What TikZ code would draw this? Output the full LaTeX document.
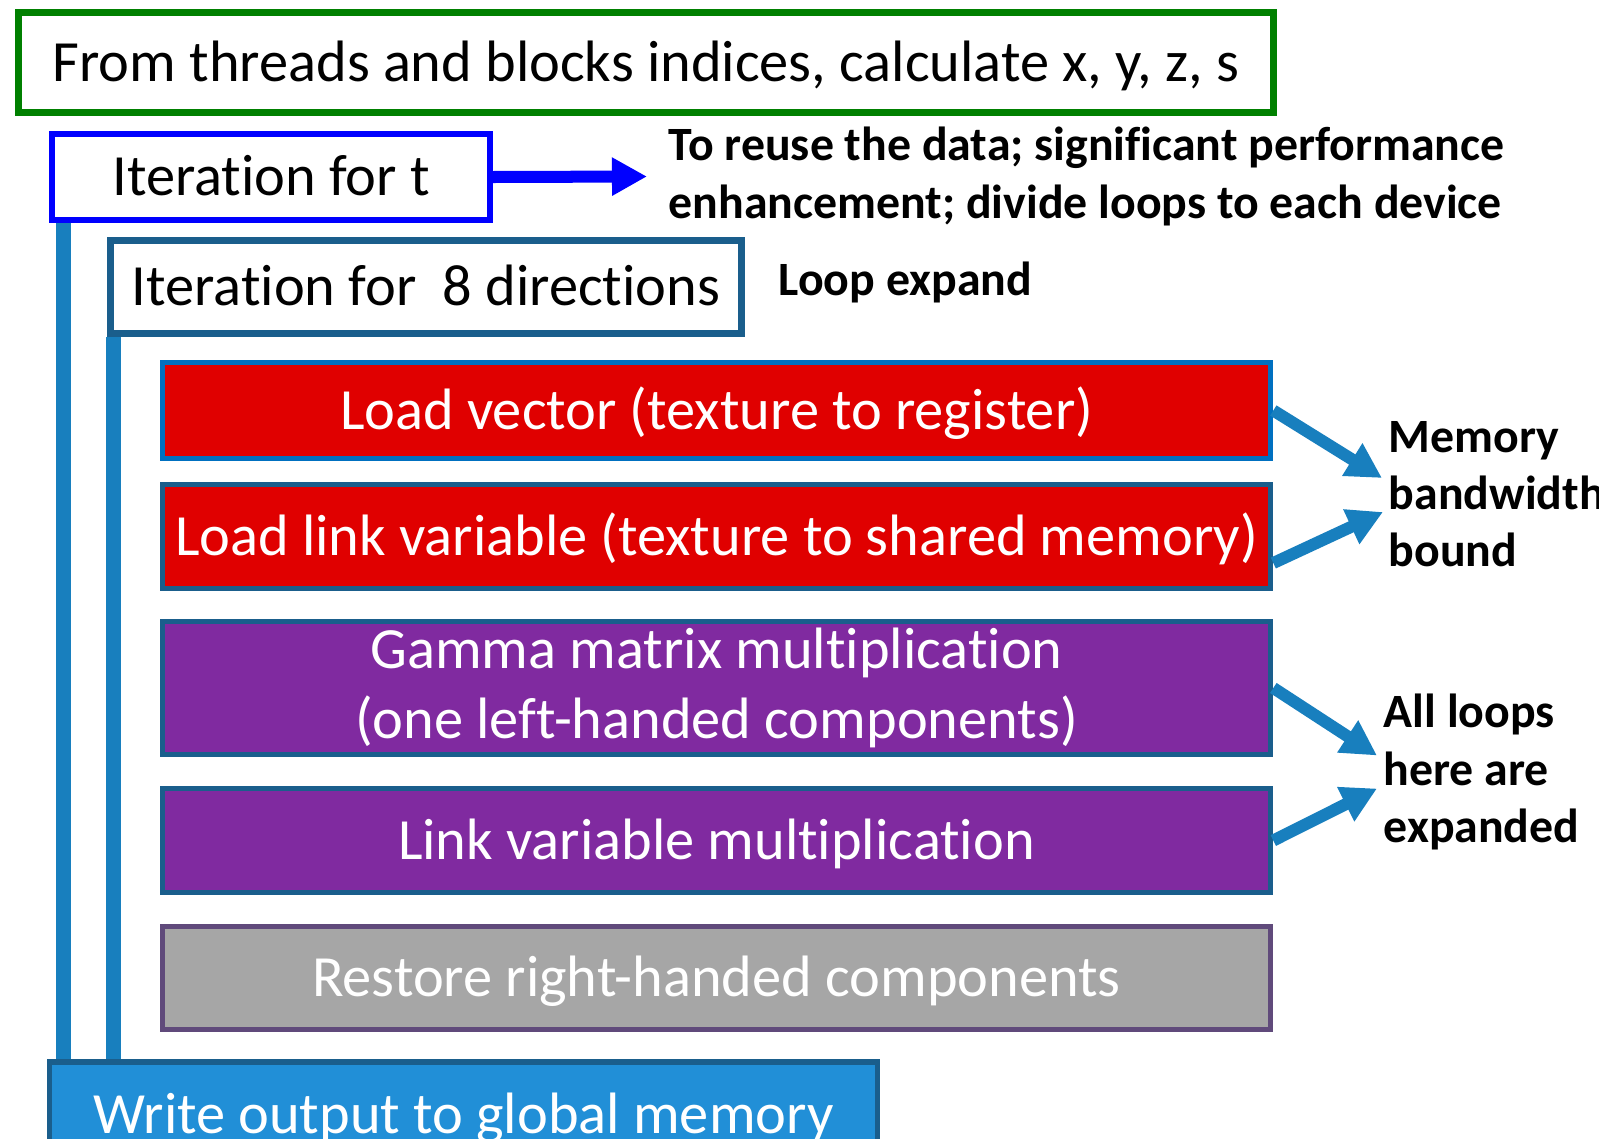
\documentclass[tikz,border=0pt]{standalone}
\usepackage{fontspec}
\setmainfont{Carlito}[Ligatures=NoCommon]
\usetikzlibrary{arrows.meta}
\definecolor{headGreen}{RGB}{0,128,0}
\definecolor{tBlue}{RGB}{0,0,255}
\definecolor{edgeBlue}{RGB}{26,94,140}
\definecolor{vecBlue}{RGB}{0,112,192}
\definecolor{barBlue}{RGB}{24,127,190}
\definecolor{outBlue}{RGB}{33,143,215}
\definecolor{loadRed}{RGB}{224,0,0}
\definecolor{mulPurple}{RGB}{128,42,160}
\definecolor{restGray}{RGB}{166,166,166}
\definecolor{restEdge}{RGB}{96,74,123}
\def\stagew{11.08cm}
\begin{document}
\begin{tikzpicture}[x=0.01cm, y=-0.01cm,
	boxtxt/.style={font=\fontsize{16.6}{19.9}\selectfont, text height=12.5pt, text depth=1.75pt, inner sep=0pt},
	stage/.style={boxtxt, draw=edgeBlue, line width=0.05cm, minimum width=\stagew, text=white},
	note/.style={font=\fontsize{13.6}{16.3}\selectfont\bfseries, align=left, inner sep=0pt},
	pipe/.style={draw=barBlue, line width=0.15cm},
	fat/.style={draw=barBlue, line width=0.12cm, -{Triangle[length=0.35cm,width=0.36cm]}}]
	\useasboundingbox (0,0) rectangle (1599,1139);
	\clip (0,0) rectangle (1599,1139);
	% outer loop frames
	\node[boxtxt, draw=headGreen, line width=0.07cm, minimum width=12.55cm, minimum height=1cm] (head) at (646,62.5) {From threads and blocks indices, calculate x, y, z, s};
	\node[boxtxt, draw=tBlue, line width=0.06cm, minimum width=4.38cm, minimum height=0.86cm] (tloop) at (271,177) {Iteration for t};
	\node[boxtxt, draw=edgeBlue, line width=0.07cm, minimum width=6.31cm, minimum height=0.93cm] (dloop) at (426,287) {Iteration for\ \ 8 directions};
	% body of the direction loop
	\node[stage, fill=loadRed, draw=vecBlue, minimum height=0.96cm] (vec) at (716.5,410.5) {Load vector (texture to register)};
	\node[stage, fill=loadRed, minimum height=1.04cm] (lnk) at (716.5,536.5) {Load link variable (texture to shared memory)};
	\node[stage, fill=mulPurple, minimum height=1.33cm, align=center, text height={}, text depth={}] (gam) at (716.5,688) {Gamma matrix multiplication\\(one left-handed components)};
	\node[stage, fill=mulPurple, minimum height=1.04cm] (lmul) at (716.5,840.5) {Link variable multiplication};
	\node[stage, fill=restGray, draw=restEdge, minimum height=1.03cm] (rest) at (716.5,978) {Restore right-handed components};
	\node[boxtxt, draw=edgeBlue, fill=outBlue, text=white, line width=0.055cm, minimum width=8.275cm, text height=0.52cm, text depth=0.5cm, inner ysep=0.2cm, anchor=north] (wout) at (463.5,1059) {Write output to global memory};
	% loop bars
	\coordinate (t1) at ([xshift=0.145cm]tloop.south west);
	\coordinate (d1) at ([xshift=0.07cm]dloop.south west);
	\draw[pipe] (t1) -- (t1 |- wout.north);
	\draw[pipe] (d1) -- (d1 |- wout.north);
	% remarks
	\node[note, anchor=west] (reuse) at (668,176.5) {To reuse the data; significant performance\\enhancement; divide loops to each device};
	\node[note, anchor=base west] (expand) at (778,295) {Loop expand};
	\node[note, anchor=west] (bw) at (1388,494) {Memory\\bandwidth\\bound};
	\node[note, anchor=west] (unroll) at (1383,772) {All loops\\here are\\expanded};
	\draw[fat, draw=tBlue] (tloop.east) -- ([xshift=-0.21cm]reuse.west);
	\draw[fat] (vec.east) -- ([shift={(-0.06cm,0.16cm)}]bw.west);
	\draw[fat] ([yshift=-0.265cm]lnk.east) -- ([shift={(-0.05cm,-0.18cm)}]bw.west);
	\draw[fat] (gam.east) -- ([shift={(-0.06cm,0.165cm)}]unroll.west);
	\draw[fat] (lmul.east) -- ([shift={(-0.06cm,-0.165cm)}]unroll.west);
\end{tikzpicture}
\end{document}
